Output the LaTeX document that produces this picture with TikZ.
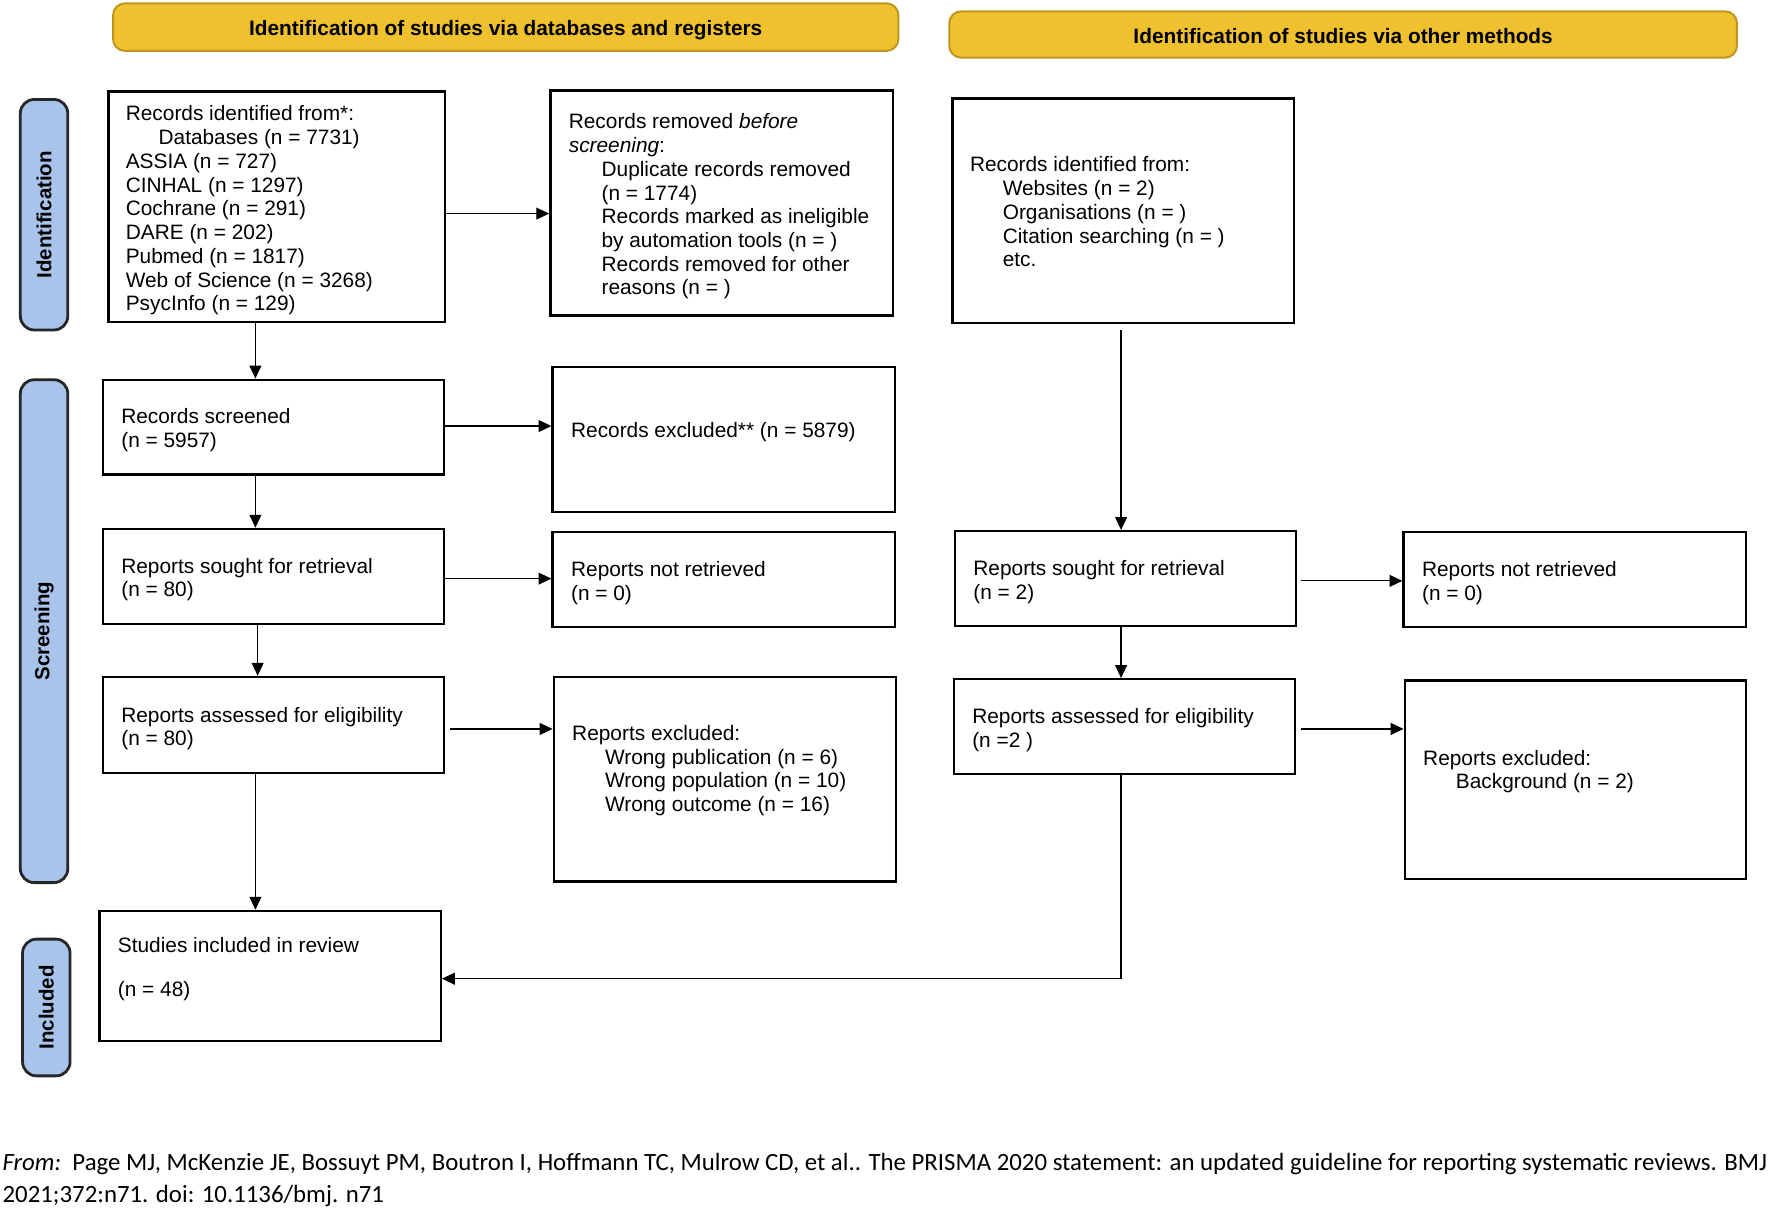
\documentclass[tikz,border=0pt]{standalone}
\usepackage{fontspec}
\setmainfont{Liberation Sans}
\newfontfamily\footfont{Carlito}
\usetikzlibrary{arrows.meta,fit}
\definecolor{gold}{RGB}{240,193,47}
\definecolor{goldedge}{RGB}{190,150,30}
\definecolor{sideblue}{RGB}{169,196,235}
\newcommand\myind{\hspace*{0.58cm}}
\begin{document}
\begin{tikzpicture}[x=0.02cm,y=-0.02cm,
  box/.style={draw, line width=1.2pt, inner sep=0pt},
  hdr/.style={draw=goldedge, fill=gold, line width=1pt, rounded corners=6pt, inner sep=0pt},
  hdrtxt/.style={inner sep=0pt, font=\bfseries\fontsize{10.5}{12}\selectfont},
  side/.style={draw=black!85, fill=sideblue, line width=1.4pt, rounded corners=7pt, inner sep=0pt},
  sidetxt/.style={font=\bfseries\fontsize{10.3}{12}\selectfont, rotate=90, inner sep=0pt},
  txt/.style={anchor=north west, inner sep=0pt, align=left, font=\fontsize{10.5}{11.95}\selectfont},
  arr/.style={line width=0.6pt, -{Triangle[length=6.5pt,width=6pt]}}]

\useasboundingbox[fill=white] (0,0) rectangle (1568,1073);

% headers
\node[hdr, fit={(100,3) (795,45)}] (H1) {};
\node[hdrtxt] (H1t) at ([yshift=-0.05cm]H1.center) {Identification of studies via databases and registers};
\node[hdr, fit={(840,10) (1537,51)}] (H2) {};
\node[hdrtxt] (H2t) at ([yshift=-0.02cm]H2.center) {Identification of studies via other methods};

% side labels
\node[side, fit={(18,88) (60,292)}] (S1) {};
\node[sidetxt] (S1t) at (S1.center) {Identification};
\node[side, fit={(18,336) (60,781)}] (S2) {};
\node[sidetxt] (S2t) at (S2.center) {Screening};
\node[side, fit={(20,831) (62,952)}] (S3) {};
\node[sidetxt] (S3t) at (S3.center) {Included};

% left column boxes
\node[box, fit={(96,81) (394,285)}] (A) {};
\node[txt] (At) at (111,92) {\strut Records identified from*:\\
\myind Databases (n = 7731)\\
ASSIA (n = 727)\\
CINHAL (n = 1297)\\
Cochrane (n = 291)\\
DARE (n = 202)\\
Pubmed (n = 1817)\\
Web of Science (n = 3268)\\
PsycInfo (n = 129)};

\node[box, fit={(487,80) (790,279)}] (B) {};
\node[txt] (Bt) at (503,99) {\strut Records removed \textit{before}\\
\textit{screening}:\\
\myind Duplicate records removed\\
\myind (n = 1774)\\
\myind Records marked as ineligible\\
\myind by automation tools (n = )\\
\myind Records removed for other\\
\myind reasons (n = )};

\node[box, fit={(91,336) (393,420)}] (C) {};
\node[txt] (Ct) at (107,360) {\strut Records screened\\(n = 5957)};

\node[box, fit={(489,325) (792,453)}] (D) {};
\node[txt] (Dt) at (505,372) {\strut Records excluded** (n = 5879)};

\node[box, fit={(91,468) (393,552)}] (E) {};
\node[txt] (Et) at (107,492) {\strut Reports sought for retrieval\\(n = 80)};

\node[box, fit={(489,471) (792,555)}] (F) {};
\node[txt] (Ft) at (505,495) {\strut Reports not retrieved\\(n = 0)};

\node[box, fit={(91,599) (393,684)}] (G) {};
\node[txt] (Gt) at (107,624) {\strut Reports assessed for eligibility\\(n = 80)};

\node[box, fit={(490,599) (793,780)}] (H) {};
\node[txt] (Ht) at (506,640) {\strut Reports excluded:\\
\myind Wrong publication (n = 6)\\
\myind Wrong population (n = 10)\\
\myind Wrong outcome (n = 16)};

\node[box, fit={(88,806) (390,921)}] (I) {};
\node[txt] (It) at (104,828) {\strut Studies included in review\\[0.36cm](n = 48)};

% right column boxes
\node[box, fit={(843,87) (1145,286)}] (J) {};
\node[txt] (Jt) at (858,137) {\strut Records identified from:\\
\myind Websites (n = 2)\\
\myind Organisations (n = )\\
\myind Citation searching (n = )\\
\myind etc.};

\node[box, fit={(845,470) (1147,554)}] (K) {};
\node[txt] (Kt) at (861,494) {\strut Reports sought for retrieval\\(n = 2)};

\node[box, fit={(1242,471) (1545,555)}] (L) {};
\node[txt] (Lt) at (1258,495) {\strut Reports not retrieved\\(n = 0)};

\node[box, fit={(844,601) (1146,685)}] (M) {};
\node[txt] (Mt) at (860,625) {\strut Reports assessed for eligibility\\(n =2 )};

\node[box, fit={(1243,602) (1545,778)}] (N) {};
\node[txt] (Nt) at (1259,662) {\strut Reports excluded:\\
\myind Background (n = 2)};

% connectors left
\draw[arr] (A.east |- 0,189) -- (B.west |- 0,189);
\draw[arr] (226,0 |- A.south) -- (226,0 |- C.north);
\draw[arr] (C.east |- 0,377) -- (D.west |- 0,377);
\draw[arr] (226,0 |- C.south) -- (226,0 |- E.north);
\draw[arr] (E.east |- 0,512) -- (F.west |- 0,512);
\draw[arr] (228,0 |- E.south) -- (228,0 |- G.north);
\draw[arr] ([xshift=0.08cm]G.east |- 0,645) -- (H.west |- 0,645);
\draw[arr] (226,0 |- G.south) -- (226,0 |- I.north);

% connectors right
\draw[arr] ([yshift=-0.1cm]992,0 |- J.south) -- (992,0 |- K.north);
\draw[arr] ([xshift=0.06cm]K.east |- 0,514) -- (L.west |- 0,514);
\draw[arr] (992,0 |- K.south) -- (992,0 |- M.north);
\draw[arr] ([xshift=0.08cm]M.east |- 0,645) -- (N.west |- 0,645);
\draw[arr] (992,0 |- M.south) |- (I.east |- 0,866);

% footer
\node[anchor=north west, inner sep=0pt, align=left, font=\footfont\fontsize{12.5}{15.9}\selectfont] (foot) at (2,1016)
{\strut\textit{From:}\ \ Page MJ, McKenzie JE, Bossuyt PM, Boutron I, Hoffmann TC, Mulrow CD, et al.. The PRISMA 2020 statement: an updated guideline for reporting systematic reviews. BMJ\\
2021;372:n71. doi: 10.1136/bmj. n71};
\end{tikzpicture}
\end{document}
